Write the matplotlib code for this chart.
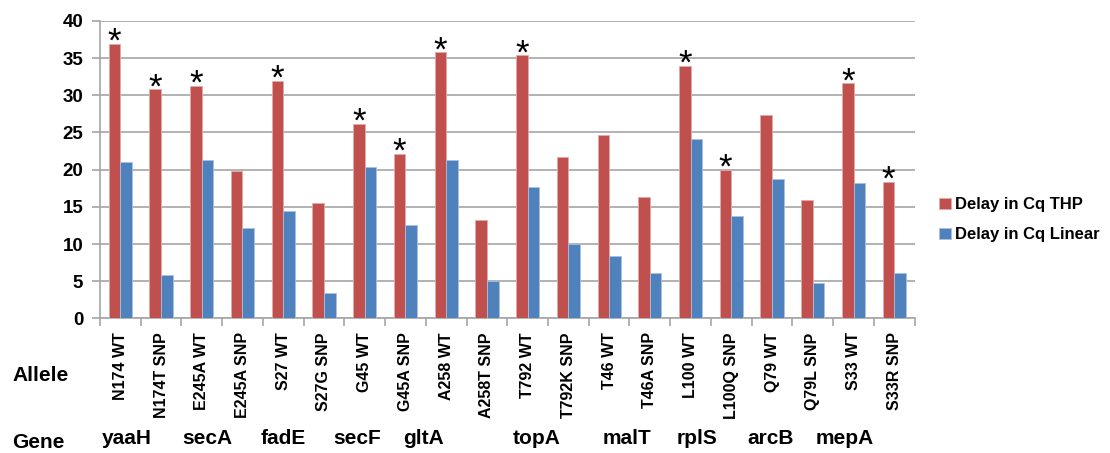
import numpy as np
import matplotlib
matplotlib.use('Agg')
import matplotlib.pyplot as plt

plt.rcParams['font.family'] = ['Liberation Sans', 'DejaVu Sans']
plt.rcParams['font.weight'] = 'bold'

alleles = ['N174 WT', 'N174T SNP', 'E245A WT', 'E245A SNP', 'S27 WT', 'S27G SNP',
           'G45 WT', 'G45A SNP', 'A258 WT', 'A258T SNP', 'T792 WT', 'T792K SNP',
           'T46 WT', 'T46A SNP', 'L100 WT', 'L100Q SNP', 'Q79 WT', 'Q79L SNP',
           'S33 WT', 'S33R SNP']
genes = ['yaaH', 'secA', 'fadE', 'secF', 'gltA', 'topA', 'malT', 'rplS', 'arcB', 'mepA']
delay_thp = [36.9, 30.8, 31.3, 19.8, 31.9, 15.5, 26.2, 22.1, 35.75, 13.2,
             35.35, 21.7, 24.7, 16.3, 33.95, 20.0, 27.3, 15.9, 31.6, 18.4]
delay_linear = [21.0, 5.9, 21.3, 12.2, 14.5, 3.4, 20.3, 12.6, 21.3, 5.0,
                17.7, 10.0, 8.4, 6.1, 24.1, 13.8, 18.7, 4.7, 18.2, 6.1]
significant = [True, True, True, False, True, False, True, True, True, False,
               True, False, False, False, True, True, False, False, True, True]

# centres of the gene names in the row below (category units, typed by hand in the original)
gene_label_x = [0.16, 2.13, 3.99, 5.81, 7.45, 10.22, 12.43, 14.17, 15.97, 17.78]

red = '#C0504D'
blue = '#4F81BD'
grid_col = '#A6A6A6'

fig = plt.figure(figsize=(11.1, 4.53), dpi=100)
ax = fig.add_axes([0.090, 0.297, 0.734, 0.657])

x = np.arange(len(alleles))
w = 0.285
ax.bar(x - w / 2, delay_thp, w, color=red, edgecolor='#E6A9A7', linewidth=0.6,
       label='Delay in Cq THP', zorder=3)
ax.bar(x + w / 2, delay_linear, w, color=blue, edgecolor='#A9C0E0', linewidth=0.6,
       label='Delay in Cq Linear', zorder=3)

for xi, val, star in zip(x, delay_thp, significant):
    if star:
        ax.text(xi - w / 2, val - 2.0, '*', ha='center', va='bottom',
                fontsize=25, fontweight='normal', color='black')

ax.set_xlim(-0.5, len(alleles) - 0.5)
ax.set_ylim(0, 40)
ax.set_yticks(range(0, 41, 5))
ax.yaxis.grid(True, color=grid_col, linewidth=1.2, zorder=0)
for s in ['top', 'right']:
    ax.spines[s].set_visible(False)
ax.spines['left'].set_color(grid_col)
ax.spines['bottom'].set_color(grid_col)
ax.spines['left'].set_linewidth(1.2)
ax.spines['bottom'].set_linewidth(1.2)

ax.set_xticks(x)
ax.set_xticklabels(alleles, rotation=90, fontsize=11.5, fontweight='bold')
ax.set_xticks(np.arange(-0.5, len(alleles)), minor=True)
ax.tick_params(axis='x', which='major', length=0, pad=10)
ax.tick_params(axis='x', which='minor', length=6, color=grid_col, width=1.2)
ax.tick_params(axis='y', length=6, color=grid_col, width=1.2, labelsize=13.5, pad=6)

for gx, g in zip(gene_label_x, genes):
    ax.text(gx, -0.405, g, transform=ax.get_xaxis_transform(), ha='center', va='center',
            fontsize=15, fontweight='bold')

fig.text(0.011, 0.172, 'Allele', ha='left', va='center', fontsize=15, fontweight='bold')
fig.text(0.011, 0.024, 'Gene', ha='left', va='center', fontsize=15, fontweight='bold')

fig.legend(loc='center left', bbox_to_anchor=(0.846, 0.515), frameon=False,
           handlelength=0.7, handleheight=0.7, handletextpad=0.25, borderaxespad=0,
           borderpad=0, labelspacing=0.9, prop={'weight': 'bold', 'size': 12})

fig.savefig('out.png', dpi=100)
